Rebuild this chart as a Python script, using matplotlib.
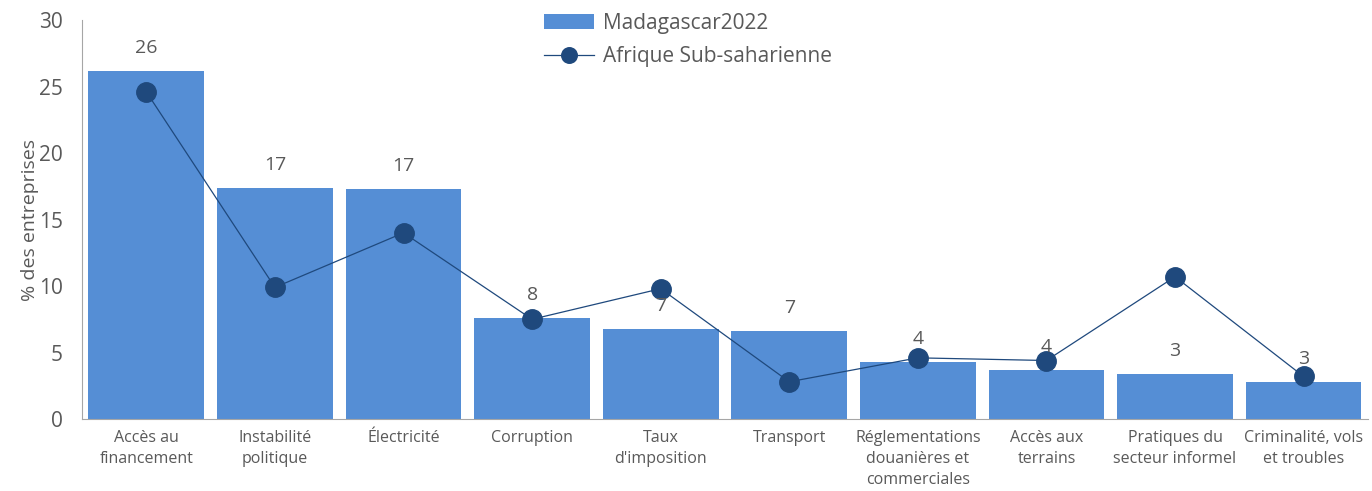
import numpy as np
import matplotlib.pyplot as plt

plt.rcParams['font.family'] = ['Open Sans', 'DejaVu Sans']

# Data
categories = ['Accès au\nfinancement', 'Instabilité\npolitique', 'Électricité', 'Corruption',
              "Taux\nd'imposition", 'Transport', 'Réglementations\ndouanières et\ncommerciales',
              'Accès aux\nterrains', 'Pratiques du\nsecteur informel', 'Criminalité, vols\net troubles']
madagascar = [26.2, 17.4, 17.3, 7.6, 6.8, 6.6, 4.3, 3.7, 3.4, 2.8]
afrique = [24.6, 9.9, 14.0, 7.5, 9.8, 2.8, 4.6, 4.4, 10.7, 3.2]

grey = '#595959'
x = np.arange(len(categories))

fig = plt.figure(figsize=(13.72, 4.91), dpi=100)
ax = fig.add_axes([0.0598, 0.1466, 0.9372, 0.8125])

bars = ax.bar(x, madagascar, width=0.9, color='#558ED5', label='Madagascar2022', zorder=2)
line, = ax.plot(x, afrique, color='#1F497D', linewidth=0.9, marker='o', markersize=14,
                markerfacecolor='#1F497D', markeredgecolor='#1F497D',
                label='Afrique Sub-saharienne', zorder=3)

for xi, v in zip(x, madagascar):
    ax.annotate(f'{v:.0f}', (xi, v), xytext=(0, 10), textcoords='offset points',
                ha='center', va='bottom', fontsize=14, color=grey)

ax.set_xlim(-0.5, 9.5)
ax.set_ylim(0, 30)
ax.set_yticks(range(0, 31, 5))
ax.set_xticks(x)
ax.set_xticklabels(categories, fontsize=11.5, color=grey, linespacing=1.4)
ax.tick_params(axis='y', labelsize=15, colors=grey, length=0, pad=14)
ax.tick_params(axis='x', length=0, pad=8)
ax.set_ylabel('% des entreprises', fontsize=14, color=grey, labelpad=0)

for s in ['top', 'right']:
    ax.spines[s].set_visible(False)
for s in ['left', 'bottom']:
    ax.spines[s].set_color('#A6A6A6')

leg = ax.legend([bars, line], ['Madagascar2022', 'Afrique Sub-saharienne'],
                loc='upper left', bbox_to_anchor=(0.345, 1.065), frameon=False, fontsize=15,
                handlelength=2.4, labelspacing=0.6, handletextpad=0.4, markerscale=0.8)
for t in leg.get_texts():
    t.set_color(grey)

fig.savefig('out.png', dpi=100)
